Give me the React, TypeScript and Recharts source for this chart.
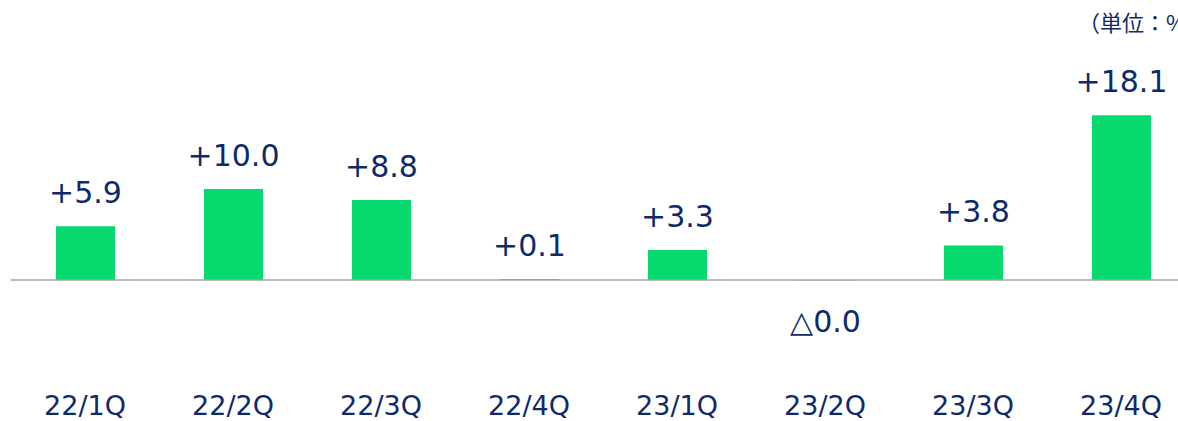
import React from "react";
import { BarChart, Bar, XAxis, YAxis, ReferenceLine, LabelList } from "recharts";

const categories = ["22/1Q", "22/2Q", "22/3Q", "22/4Q", "23/1Q", "23/2Q", "23/3Q", "23/4Q"];
const changeValues = [5.9, 10.0, 8.8, 0.1, 3.3, -0.04, 3.8, 18.1];
const unitLabel = "（単位：%）";

const data = categories.map((q, i) => ({ q, v: changeValues[i] }));

const NAVY = "#0d2a6b";
const GREEN = "#06d96e";
const FONT = "'DejaVu Sans', Verdana, sans-serif";

const fmt = (v: number) => (v < 0 ? "△" : "+") + Math.abs(v).toFixed(1);

const ValueLabel = (props: any) => {
  const { x, y, width, height, value } = props;
  const top = Math.min(y, y + height);
  const bottom = Math.max(y, y + height);
  const cx = x + width / 2;
  const ty = value < 0 ? bottom + 52 : top - 23;
  return (
    <text x={cx} y={ty} textAnchor="middle" fill={NAVY} fontSize={30} fontFamily={FONT}>
      {fmt(value)}
    </text>
  );
};

const Tick = (props: any) => {
  const { x, y, payload } = props;
  return (
    <text x={x} y={y} dy={36} textAnchor="middle" fill={NAVY} fontSize={27} fontFamily={FONT}>
      {payload.value}
    </text>
  );
};

export default function App() {
  return (
    <div style={{ position: "fixed", left: 0, top: 0, width: 1178, height: 421, overflow: "hidden", background: "#fff" }}>
      <BarChart width={1200} height={421} data={data} margin={{ top: 98, right: 5, left: 11, bottom: 0 }}>
        <XAxis dataKey="q" axisLine={false} tickLine={false} tick={<Tick />} height={50} interval={0} />
        <YAxis hide domain={[-10, 20]} />
        <Bar dataKey="v" fill={GREEN} barSize={59} isAnimationActive={false}>
          <LabelList dataKey="v" content={<ValueLabel />} />
        </Bar>
        <ReferenceLine y={0} stroke="#a3a3a3" strokeWidth={1.5} />
      </BarChart>
      <div
        style={{
          position: "absolute",
          left: 1078,
          top: 6,
          fontSize: 22,
          lineHeight: "30px",
          color: NAVY,
          fontFamily: "'Noto Sans CJK JP', sans-serif",
          whiteSpace: "nowrap",
        }}
      >
        {unitLabel}
      </div>
    </div>
  );
}
